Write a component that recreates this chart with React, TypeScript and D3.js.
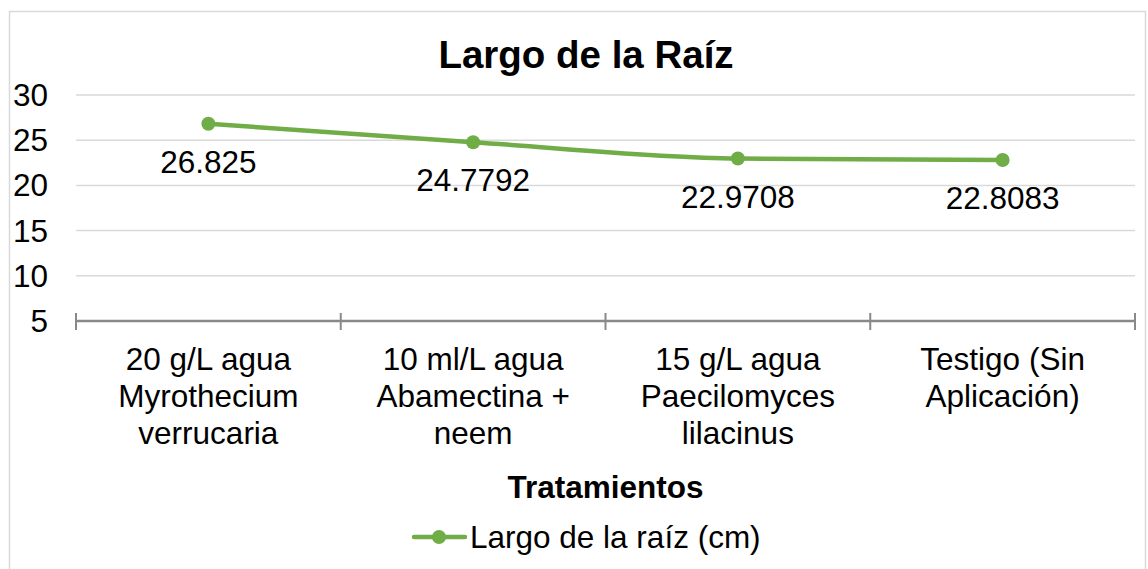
import React, { useEffect, useRef } from "react";
import * as d3 from "d3";

const categories = [
  ["20 g/L agua", "Myrothecium", "verrucaria"],
  ["10 ml/L agua", "Abamectina +", "neem"],
  ["15 g/L agua", "Paecilomyces", "lilacinus"],
  ["Testigo (Sin", "Aplicación)"],
];
const values = [26.825, 24.7792, 22.9708, 22.8083];
const valueLabels = ["26.825", "24.7792", "22.9708", "22.8083"];
const yTicks = [5, 10, 15, 20, 25, 30];
const seriesName = "Largo de la raíz (cm)";

export default function App() {
  const svgRef = useRef<SVGSVGElement>(null);
  const width = 1148;
  const height = 569;

  useEffect(() => {
    const svg = d3.select(svgRef.current);
    svg.selectAll("*").remove();
    const font = "Arial, 'Liberation Sans', sans-serif";
    const fs = 31.5;
    const green = "#70ad47";

    const left = 76, right = 1135, top = 95, bottom = 321;

    // chart border
    svg.append("rect")
      .attr("x", 9.5).attr("y", 11.5)
      .attr("width", 1136).attr("height", 570)
      .attr("fill", "#fff").attr("stroke", "#d9d9d9").attr("stroke-width", 1.5);

    const x = d3.scaleBand().domain(d3.range(categories.length).map(String)).range([left, right]);
    const y = d3.scaleLinear().domain([5, 30]).range([bottom, top]);

    // gridlines
    svg.append("g").selectAll("line")
      .data(yTicks.filter(t => t > 5))
      .join("line")
      .attr("x1", left).attr("x2", right)
      .attr("y1", d => y(d)).attr("y2", d => y(d))
      .attr("stroke", "#d9d9d9").attr("stroke-width", 1.5);

    // y tick labels
    svg.append("g").selectAll("text")
      .data(yTicks)
      .join("text")
      .attr("x", 48).attr("y", d => y(d))
      .attr("text-anchor", "end").attr("dominant-baseline", "central")
      .attr("font-family", font).attr("font-size", fs).attr("fill", "#000")
      .text(d => d);

    // x axis
    svg.append("line")
      .attr("x1", left).attr("x2", right)
      .attr("y1", bottom).attr("y2", bottom)
      .attr("stroke", "#898989").attr("stroke-width", 2.5);
    const boundaries = d3.range(categories.length + 1).map(i => left + i * x.bandwidth());
    svg.append("g").selectAll("line")
      .data(boundaries)
      .join("line")
      .attr("x1", d => d).attr("x2", d => d)
      .attr("y1", bottom - 8).attr("y2", bottom + 9)
      .attr("stroke", "#898989").attr("stroke-width", 2);

    // category labels
    const cat = svg.append("g").selectAll("text")
      .data(categories)
      .join("text")
      .attr("x", (d, i) => x(String(i))! + x.bandwidth() / 2)
      .attr("y", 370)
      .attr("text-anchor", "middle")
      .attr("font-family", font).attr("font-size", fs).attr("fill", "#000");
    cat.selectAll("tspan")
      .data(d => d)
      .join("tspan")
      .attr("x", function () { return (this.parentNode as SVGTextElement).getAttribute("x"); })
      .attr("dy", (d, i) => (i === 0 ? 0 : 37))
      .text(d => d);

    // line
    const cx = (i: number) => x(String(i))! + x.bandwidth() / 2;
    const line = d3.line<number>().x((d, i) => cx(i)).y(d => y(d)).curve(d3.curveMonotoneX);
    svg.append("path")
      .datum(values)
      .attr("d", line)
      .attr("fill", "none").attr("stroke", green).attr("stroke-width", 4.5)
      .attr("stroke-linecap", "round");
    svg.append("g").selectAll("circle")
      .data(values)
      .join("circle")
      .attr("cx", (d, i) => cx(i)).attr("cy", d => y(d))
      .attr("r", 7).attr("fill", green);

    // data labels
    svg.append("g").selectAll("text")
      .data(values)
      .join("text")
      .attr("x", (d, i) => cx(i)).attr("y", d => y(d) + 49)
      .attr("text-anchor", "middle")
      .attr("font-family", font).attr("font-size", fs).attr("fill", "#000")
      .text((d, i) => valueLabels[i]);

    // title
    svg.append("text")
      .attr("x", 586).attr("y", 68)
      .attr("text-anchor", "middle")
      .attr("font-family", font).attr("font-size", 38.5).attr("font-weight", "bold")
      .text("Largo de la Raíz");

    // axis title
    svg.append("text")
      .attr("x", (left + right) / 2).attr("y", 498)
      .attr("text-anchor", "middle")
      .attr("font-family", font).attr("font-size", fs).attr("font-weight", "bold")
      .text("Tratamientos");

    // legend
    const lg = svg.append("g");
    lg.append("line")
      .attr("x1", 414).attr("x2", 465).attr("y1", 537).attr("y2", 537)
      .attr("stroke", green).attr("stroke-width", 4.5).attr("stroke-linecap", "round");
    lg.append("circle").attr("cx", 439).attr("cy", 537).attr("r", 7).attr("fill", green);
    lg.append("text")
      .attr("x", 470).attr("y", 537)
      .attr("dominant-baseline", "central")
      .attr("font-family", font).attr("font-size", fs).attr("fill", "#000")
      .text(seriesName);
  }, []);

  return (
    <svg
      ref={svgRef}
      width={width}
      height={height}
      style={{ position: "absolute", left: 0, top: 0, background: "#fff" }}
    />
  );
}
